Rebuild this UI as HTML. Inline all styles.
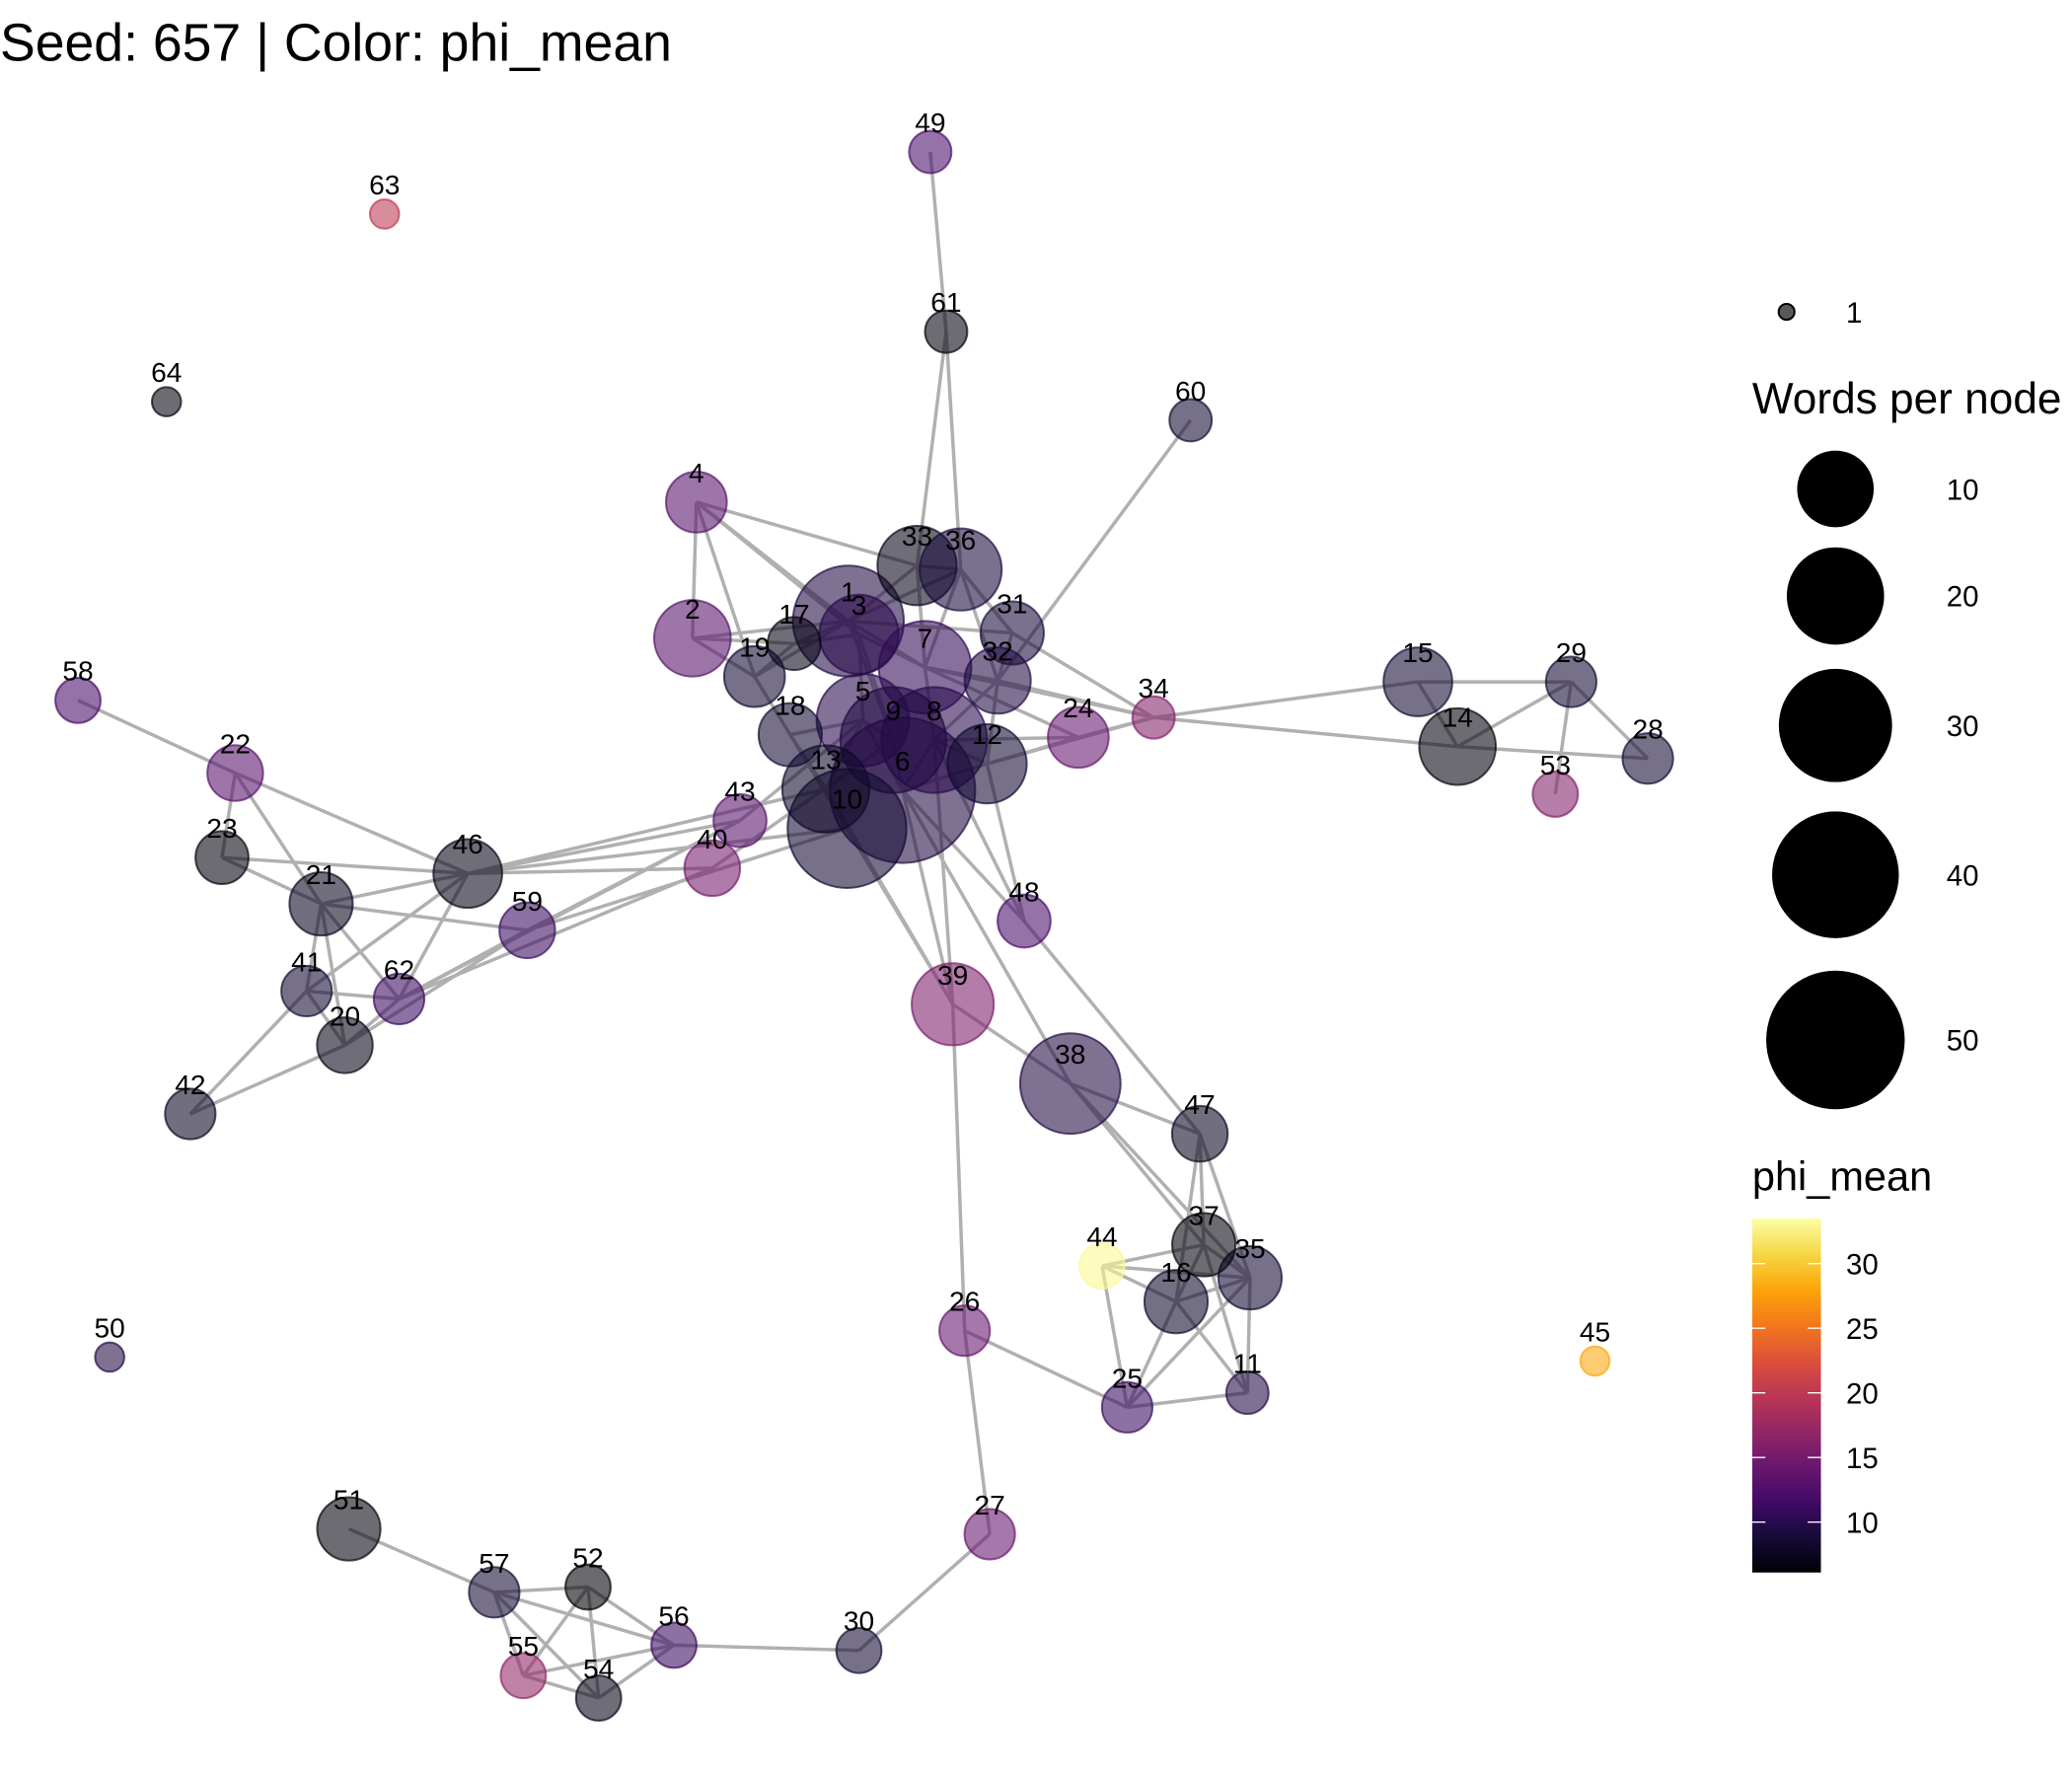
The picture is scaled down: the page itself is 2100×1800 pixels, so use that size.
<!DOCTYPE html>
<html><head><meta charset="utf-8"><style>
html,body{margin:0;padding:0;background:#fff;}
svg{display:block;font-family:"Liberation Sans",sans-serif;}
</style></head><body>
<svg id="chart" width="2100" height="1800" viewBox="0 0 1568 1344" xmlns="http://www.w3.org/2000/svg">
<rect width="1568" height="1344" fill="#fff"/>
<text x="0" y="46" font-size="40" fill="#000">Seed: 657 | Color: phi_mean</text>
<g id="edges"></g>
<g id="nodes"></g>
<g id="labels"></g>
<g id="legend"></g>
</svg>
<script>
const nodeIds=[1,2,3,4,5,6,7,8,9,10,11,12,13,14,15,16,17,18,19,20,21,22,23,24,25,26,27,28,29,30,31,32,33,34,35,36,37,38,39,40,41,42,43,44,45,46,47,48,49,50,51,52,53,54,55,56,57,58,59,60,61,62,63,64];
const nodeX=[642,524,650,527,653,683,700,707,676,641,944,747,625,1103,1073,890,601,598,571,261,243,178,168,816,853,730,749,1247,1189,650,766,755,694,873,946,727,911,810,721,539,232,144,560,834,1207,354,908,775,704,83,264,445,1177,453,396,510,374,59,399,901,716,302,291,126];
const nodeY=[470,483,480,380,545,598,505,560,560,627,1054,578,597,565,516,985,487,556,512,791,684,585,649,558,1065,1007,1161,574,516,1249,479,515,428,543,967,431,942,820,760,657,750,843,621,958,1030,661,858,697,115,1027,1157,1201,601,1285,1268,1245,1205,530,704,318,251,756,162,304];
const words=[28.4,10,11.1,4.7,17.4,56.3,17.4,25,25,34,1,11.1,14.7,10,7.1,5.4,2.8,5.4,4.7,3.4,5.4,3.4,2.8,4.7,2.3,2.3,2.3,2.3,2.3,1.4,5.4,6.3,11.1,1,5.4,12.3,5.4,21.8,12.3,3.4,2.3,2.3,2.8,1.4,0.03,7.1,3.4,2.8,1,0.03,5.4,1.4,1.4,1.4,1.4,1.4,2.3,1.4,3.4,1,1,2.3,0.03,0.03];
const phi=[9.5,13,10,13,10,9.5,10.5,10,9.5,8.5,9.5,8.5,8,6.5,8.5,8,7,8.5,8.5,7,7.5,13,6.5,14,11,14,14,8.5,8.5,8.5,9,9.5,7,16,8.5,9,6.5,9.5,15.5,15,8.5,7.5,13,33,28,7,7.5,12,12,9.5,6.5,5.5,16,7,17,11,8.5,12,11,8.5,6.5,11,20,6.5];
const edgeFrom=[49,61,61,60,4,4,4,4,4,2,2,2,1,1,1,1,1,1,1,3,3,3,3,5,5,5,5,7,7,7,7,8,8,8,9,9,10,10,12,12,13,17,17,18,19,31,31,32,33,33,36,36,24,24,24,12,32,7,31,34,34,15,15,14,14,29,29,43,40,10,13,10,43,62,62,62,46,46,46,46,46,22,22,23,21,21,21,41,41,20,20,42,42,59,58,6,10,13,8,39,39,6,6,12,8,48,38,38,38,47,47,47,44,44,44,44,16,16,16,16,37,35,37,25,25,26,26,27,30,56,56,56,56,51,57,57,57,52,52,55,5,9,7,1];
const edgeTo=[61,33,36,32,1,2,33,19,3,17,1,19,3,17,19,33,36,7,9,7,5,9,17,9,18,13,6,8,32,36,33,12,32,6,6,13,13,18,6,32,18,19,3,19,1,32,36,12,36,7,31,32,34,12,8,34,34,34,34,15,14,14,29,29,28,53,28,46,46,46,46,59,59,40,43,59,21,22,23,41,62,23,21,21,41,20,62,20,62,59,62,41,20,21,22,39,39,39,39,26,38,38,48,48,48,47,47,37,35,37,35,16,37,16,35,25,37,35,25,11,11,11,35,11,35,25,27,30,56,52,57,54,55,57,55,54,52,55,54,54,43,40,24,31];
const phiMin=6.1, phiMax=33.5;
const stops=["#000004","#160b39","#420a68","#6a176e","#932667","#bc3754","#dd513a","#f37819","#fca50a","#f6d746","#fcffa4"];
function hex(h){return [1,3,5].map(i=>parseInt(h.substr(i,2),16));}
function inferno(t){t=Math.max(0,Math.min(1,t));const p=t*10,i=Math.min(9,Math.floor(p)),f=p-i;const a=hex(stops[i]),b=hex(stops[i+1]);return "rgb("+a.map((v,k)=>Math.round(v+(b[k]-v)*f)).join(",")+")";}
function colorOf(v){return inferno((v-phiMin)/(phiMax-phiMin));}
function radius(w){return 10+6*Math.sqrt(w);}
const NS="http://www.w3.org/2000/svg";
function mk(tag,attrs,parent){const e=document.createElementNS(NS,tag);for(const k in attrs)e.setAttribute(k,attrs[k]);parent.appendChild(e);return e;}
const idx={};nodeIds.forEach((id,i)=>idx[id]=i);
const gE=document.getElementById("edges"),gN=document.getElementById("nodes"),gL=document.getElementById("labels"),gLg=document.getElementById("legend");
edgeFrom.forEach((f,k)=>{const a=idx[f],b=idx[edgeTo[k]];
const l=mk("line",{x1:nodeX[a],y1:nodeY[a],x2:nodeX[b],y2:nodeY[b],stroke:"#b0b0b0","stroke-width":2.6},gE);

});
nodeIds.forEach((id,i)=>{const c=colorOf(phi[i]);
const n=mk("circle",{cx:nodeX[i],cy:nodeY[i],r:radius(words[i]),fill:c,"fill-opacity":0.58,stroke:c,"stroke-opacity":0.7,"stroke-width":1.5},gN);

});
nodeIds.forEach((id,i)=>{const t=mk("text",{x:nodeX[i],y:nodeY[i]-15,"text-anchor":"middle","font-size":21,fill:"#000"},gL);t.textContent=id;

});
const legWords=[10,20,30,40,50];
const legY=[370,451,549,662,787];
let e=mk("circle",{cx:1352,cy:236,r:6,fill:"#000","fill-opacity":0.65,stroke:"#000","stroke-width":1.5},gLg);


e=mk("text",{x:1397,y:244,"font-size":22},gLg);e.textContent="1";


e=mk("text",{x:1326,y:313,"font-size":33},gLg);e.textContent="Words per node";


legWords.forEach((w,k)=>{const c=mk("circle",{cx:1389,cy:legY[k],r:radius(w),fill:"#000"},gLg);


const t=mk("text",{x:1473,y:legY[k]+8,"font-size":22},gLg);t.textContent=w;

});
e=mk("text",{x:1326,y:901,"font-size":31},gLg);e.textContent="phi_mean";


const barTop=922,barBot=1190;
const defs=mk("defs",{},gLg);const lg=mk("linearGradient",{id:"cb",x1:0,y1:1,x2:0,y2:0},defs);
stops.forEach((s,k)=>mk("stop",{offset:k/10,"stop-color":s},lg));
e=mk("rect",{x:1326,y:barTop,width:52,height:barBot-barTop,fill:"url(#cb)"},gLg);


const cTicks=[10,15,20,25,30];
cTicks.forEach(v=>{const y=barBot-(v-phiMin)/(phiMax-phiMin)*(barBot-barTop);
mk("line",{x1:1326,x2:1336,y1:y,y2:y,stroke:"#fff","stroke-width":1},gLg);
mk("line",{x1:1368,x2:1378,y1:y,y2:y,stroke:"#fff","stroke-width":1},gLg);
const t=mk("text",{x:1397,y:y+8,"font-size":22},gLg);t.textContent=v;

});
</script>
</body></html>
